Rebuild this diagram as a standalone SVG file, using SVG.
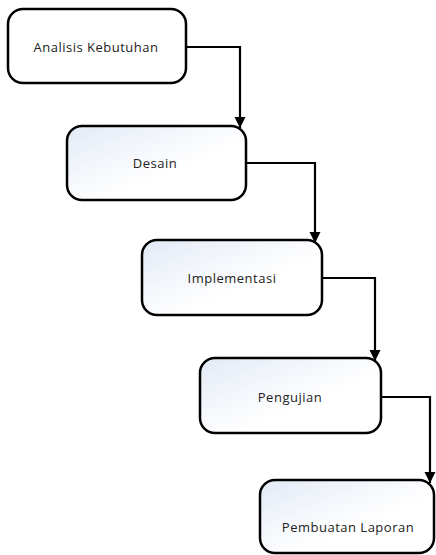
<svg xmlns="http://www.w3.org/2000/svg" width="436" height="555" viewBox="0 0 436 555">
<defs>
<linearGradient id="g" x1="0" y1="0" x2="1" y2="1">
<stop offset="0" stop-color="#e3eaf6"/>
<stop offset="0.6" stop-color="#ffffff"/>
</linearGradient>
<marker id="ah" markerWidth="11" markerHeight="12" refX="10" refY="5" orient="auto" markerUnits="userSpaceOnUse" viewBox="0 0 10 10">
<path d="M0,0 L10,5 L0,10 Z" fill="#000"/>
</marker>
</defs>
<style>
.box{stroke:#000;stroke-width:2.5;fill:url(#g)}
.w{fill:#fff}
.lbl{font-family:"Open Sans","Noto Sans",sans-serif;font-size:13px;letter-spacing:0.5px;fill:#222;text-anchor:middle;dominant-baseline:central}
.c{fill:none;stroke:#000;stroke-width:2.2;marker-end:url(#ah)}
</style>
<rect width="436" height="555" fill="#fff"/>
<g id="connectors">
<path class="c" d="M186,47 H240 V128"/>
<path class="c" d="M246,163 H315 V243"/>
<path class="c" d="M322,278 H375 V361"/>
<path class="c" d="M381,397 H430 V483"/>
</g>
<g id="n1">
<rect class="box w" x="8" y="9" width="178" height="74" rx="15"/>
<text class="lbl" x="96" y="47">Analisis Kebutuhan</text>
</g>
<g id="n2">
<rect class="box" x="67" y="126" width="179" height="74" rx="15"/>
<text class="lbl" x="155" y="163">Desain</text>
</g>
<g id="n3">
<rect class="box" x="142" y="240" width="180" height="75" rx="15"/>
<text class="lbl" x="232" y="278">Implementasi</text>
</g>
<g id="n4">
<rect class="box" x="200" y="358" width="181" height="75" rx="15"/>
<text class="lbl" x="290" y="397">Pengujian</text>
</g>
<g id="n5">
<rect class="box" x="260" y="480" width="174" height="73" rx="15"/>
<text class="lbl" x="348" y="527">Pembuatan Laporan</text>
</g>
</svg>
